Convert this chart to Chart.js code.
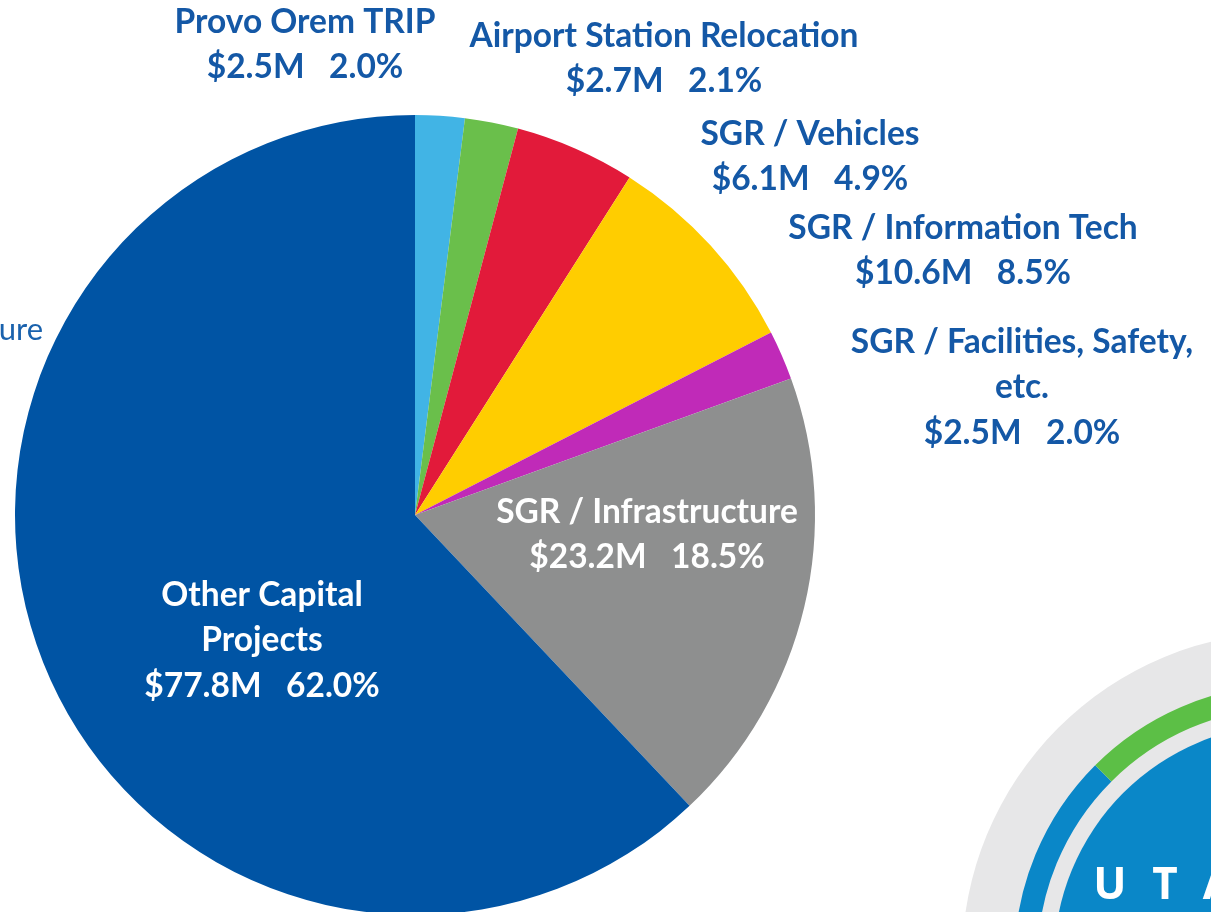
<!DOCTYPE html>
<html>
<head>
<meta charset="utf-8">
<script src="https://cdn.jsdelivr.net/npm/chart.js@4.4.0/dist/chart.umd.min.js"></script>
<style>
  html, body { margin: 0; padding: 0; background: #fff; overflow: hidden; }
  #wrap { position: relative; width: 1211px; height: 912px; overflow: hidden; }
</style>
</head>
<body>
<div id="wrap"><canvas id="myChart" width="1211" height="930"></canvas></div>
<script>
// capital budget breakdown ($M)
const categories = ['Provo Orem TRIP', 'Airport Station Relocation', 'SGR / Vehicles',
  'SGR / Information Tech', 'SGR / Facilities, Safety, etc.', 'SGR / Infrastructure',
  'Other Capital Projects'];
const amounts = [2.5, 2.7, 6.1, 10.6, 2.5, 23.2, 77.8];
const percents = ['2.0%', '2.1%', '4.9%', '8.5%', '2.0%', '18.5%', '62.0%'];
const sliceColors = ['#41b4e5', '#6abf4b', '#e21a3a', '#ffcd00', '#c02ab8', '#8e8f8f', '#0054a4'];

// where each label block sits and how it wraps
const labelLines = [
  ['Provo Orem TRIP'],
  ['Airport Station Relocation'],
  ['SGR / Vehicles'],
  ['SGR / Information Tech'],
  ['SGR / Facilities, Safety,', 'etc.'],
  ['SGR / Infrastructure'],
  ['Other Capital', 'Projects']
];
const labelPos = [[305, 22], [664, 36], [810, 134], [963, 228], [1022, 342], [647, 512], [262, 595]];
const labelInside = [false, false, false, false, false, true, true];

const DARK = '#1458a6';
const FONT = 'bold 33.5px Lato, "Open Sans", sans-serif';

const labelPlugin = {
  id: 'sliceLabels',
  afterDraw(chart) {
    const c = chart.ctx;
    c.save();
    c.textAlign = 'center';
    c.textBaseline = 'middle';
    c.font = FONT;
    categories.forEach((name, i) => {
      const lines = labelLines[i].slice();
      lines.push('$' + amounts[i].toFixed(1) + 'M   ' + percents[i]);
      c.fillStyle = labelInside[i] ? '#ffffff' : DARK;
      lines.forEach((t, k) => {
        c.fillText(t, labelPos[i][0], labelPos[i][1] + k * 45.5);
      });
    });
    // cut-off label from the neighbouring chart
    c.font = '31px Lato, "Open Sans", sans-serif';
    c.fillStyle = '#1a62ad';
    c.textAlign = 'right';
    c.fillText('ure', 43, 330);
    c.restore();
  }
};

// UTA logo in the corner
const logoPlugin = {
  id: 'utaLogo',
  afterDraw(chart) {
    const c = chart.ctx;
    const x = 1290, y = 960;
    c.save();
    c.fillStyle = '#e7e7e8';
    c.beginPath(); c.arc(x, y, 328, 0, Math.PI * 2); c.fill();
    c.lineWidth = 23;
    c.strokeStyle = '#0a87c8';
    c.beginPath(); c.arc(x, y, 264, Math.PI * 0.5, Math.PI * 1.25); c.stroke();
    c.strokeStyle = '#5cbf46';
    c.beginPath(); c.arc(x, y, 264, Math.PI * 1.25, Math.PI * 1.75); c.stroke();
    c.fillStyle = '#0a87c8';
    c.beginPath(); c.arc(x, y, 236, 0, Math.PI * 2); c.fill();
    c.fillStyle = '#ffffff';
    c.font = 'bold 44px "Open Sans", sans-serif';
    c.textAlign = 'center';
    c.textBaseline = 'middle';
    c.fillText('U', 1110, 886);
    c.fillText('T', 1165, 886);
    c.fillText('A', 1218, 886);
    c.restore();
  }
};

const ctx = document.getElementById('myChart').getContext('2d');

var chartData = {
  type: 'pie',
  data: {
    labels: categories,
    datasets: [{
      data: amounts,
      backgroundColor: sliceColors,
      borderWidth: 0
    }]
  },
  options: {
    responsive: false,
    animation: false,
    layout: { padding: { left: 15, top: 115, right: 396, bottom: 15 } },
    plugins: {
      legend: { display: false },
      tooltip: { enabled: false }
    }
  },
  plugins: [logoPlugin, labelPlugin]
};

var myChart = new Chart(ctx, chartData);
</script>
</body>
</html>
